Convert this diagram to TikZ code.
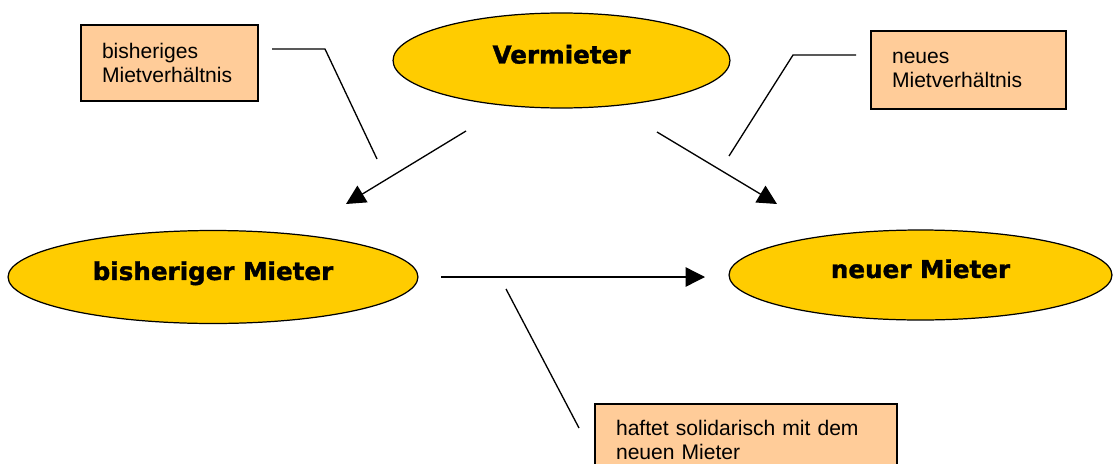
\documentclass[tikz,border=0pt]{standalone}
\usepackage{fontspec}
\setmainfont{Liberation Sans}
\newfontfamily\headfont{DejaVu Sans}[BoldFeatures={FakeBold=1.5}]
\usetikzlibrary{arrows.meta, shapes.geometric}
\definecolor{partyfill}{RGB}{255, 204, 0}
\definecolor{notefill}{RGB}{255, 204, 153}

\begin{document}
\begin{tikzpicture}[x=0.02cm, y=-0.02cm,
    party/.style={ellipse, draw, fill=partyfill, line width=0.7pt, inner sep=0pt,
                  font=\headfont\bfseries\fontsize{14}{16}\selectfont,
                  text height=8pt, text depth=4.6pt},
    note/.style={rectangle, draw, fill=notefill, line width=0.8pt, align=left,
                 inner xsep=0.42cm, inner ysep=0pt,
                 font=\fontsize{12}{13.6}\selectfont},
    link/.style={line width=0.75pt},
    arrow/.style={line width=0.75pt, -{Triangle[length=11pt, width=11pt]}}]

    % Frame
    \clip (0,0) rectangle (1114,463);

    % Parties
    \node[party, minimum width=6.74cm, minimum height=1.9cm] (verm) at (561.5, 60.5) {Vermieter};
    \node[party, minimum width=8.2cm, minimum height=1.86cm] (alt) at (213, 277) {bisheriger Mieter};
    \node[party, minimum width=7.66cm, minimum height=1.8cm] (neu) at (920.5, 275) {neuer Mieter};

    % Notes
    \node[note, text width=2.7cm, minimum height=1.52cm] (altnote) at (169.5, 63) {bisheriges\\Mietverhältnis};
    \node[note, text width=3.06cm, minimum height=1.56cm] (neunote) at (968.5, 70) {neues\\Mietverhältnis};
    \node[note, text width=5.2cm, minimum height=1.44cm] (haftnote) at (746, 440) {haftet solidarisch mit dem\\neuen Mieter};

    % Arrow ends
    \coordinate (vermL) at (466, 131);
    \coordinate (altT) at (346, 204);
    \coordinate (vermR) at (657, 132);
    \coordinate (neuT) at (777, 204);
    \coordinate (altR) at (441, 277);
    \coordinate (neuL) at (705, 277);

    % Arrows
    \draw[arrow] (vermL) -- (altT);
    \draw[arrow] (vermR) -- (neuT);
    \draw[arrow] (altR) -- (neuL);

    % Pointer lines
    \coordinate (altnoteA) at (272, 49);
    \coordinate (altnoteB) at (325, 49);
    \coordinate (altnoteC) at (377, 159);
    \draw[link] (altnoteA) -- (altnoteB) -- (altnoteC);

    \coordinate (neunoteA) at (856, 55);
    \coordinate (neunoteB) at (793, 55);
    \coordinate (neunoteC) at (729, 156);
    \draw[link] (neunoteA) -- (neunoteB) -- (neunoteC);

    \coordinate (haftA) at (506, 289);
    \coordinate (haftB) at (579, 428);
    \draw[link] (haftA) -- (haftB);
\end{tikzpicture}
\end{document}
